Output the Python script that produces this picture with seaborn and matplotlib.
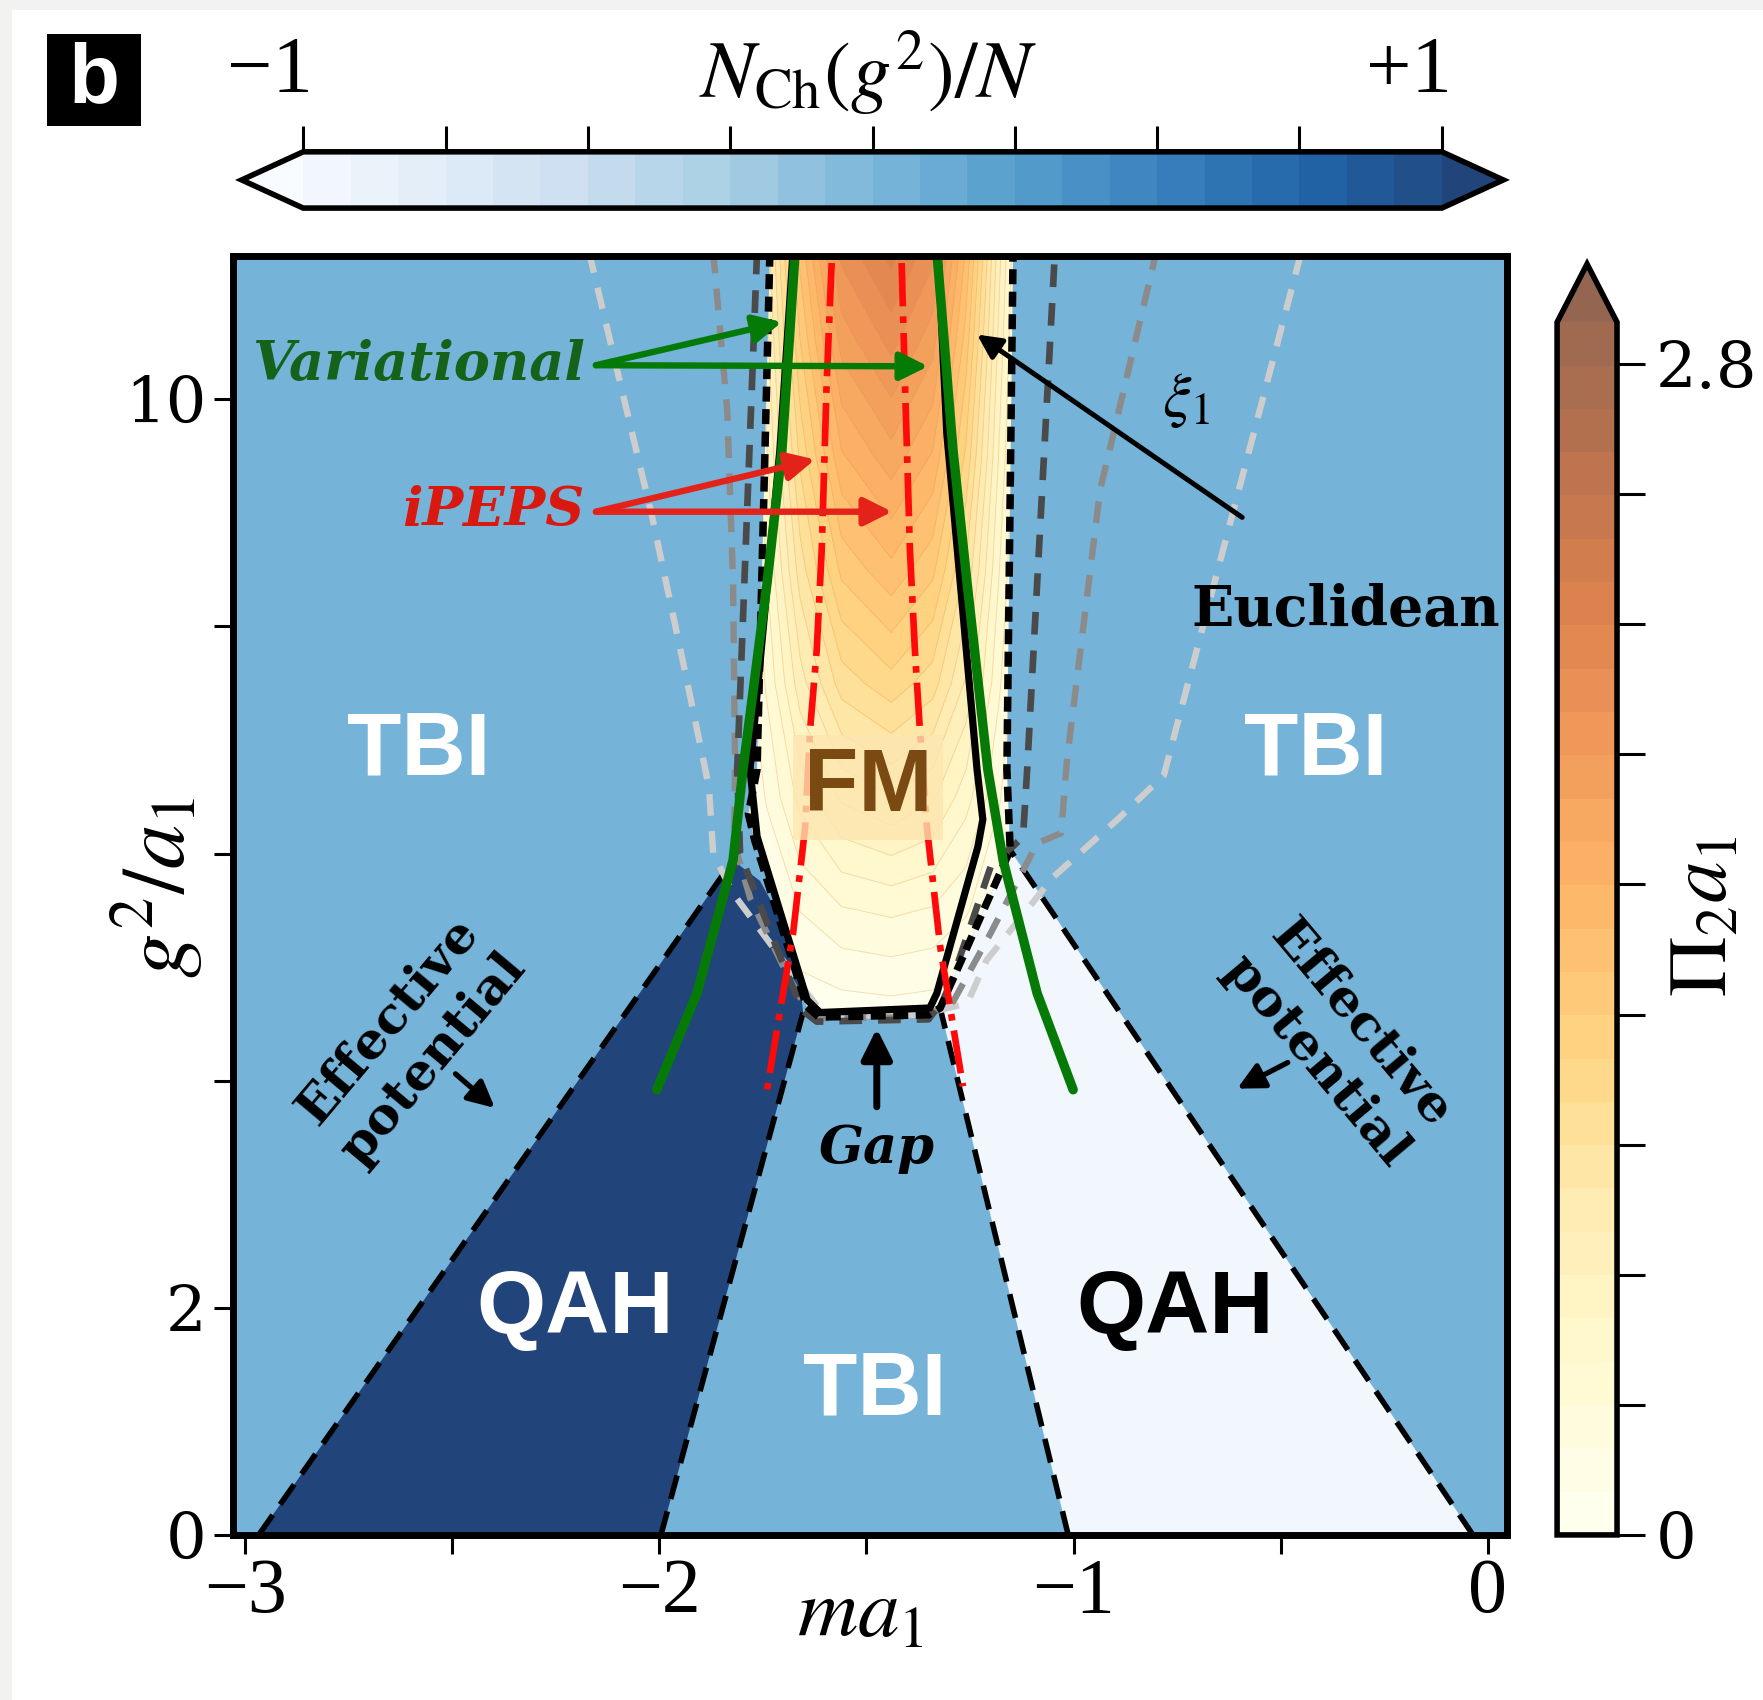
import numpy as np
import matplotlib
matplotlib.use("Agg")
import matplotlib.pyplot as plt
import seaborn as sns
from matplotlib.colors import ListedColormap, BoundaryNorm
from matplotlib.cm import ScalarMappable
from matplotlib.patches import Polygon, Rectangle

# ---------------------------------------------------------------- data
# colour scales
chern_levels = np.linspace(-1, 1, 25)        # N_Ch(g^2)/N
chern_ticks = np.linspace(-1, 1, 9)
pi_levels = np.linspace(0, 2.9, 29)          # Pi_2 a1
pi_ticks = np.linspace(0, 2.8, 10)
pi_tick_labels = ["0", "", "", "", "", "", "", "", "", "2.8"]

# phase regions (m a1, g^2/a1) and their Chern number per flavour
tbi_x = [-3.05, 0.06, 0.06, -3.05]
tbi_y = [0.0, 0.0, 11.4, 11.4]
tbi_value = 0.0

qah_plus_x = [-2.967, -1.996, -1.653, -1.660, -1.691, -1.757, -1.822]
qah_plus_y = [0.0, 0.0, 4.60, 4.88, 5.32, 5.76, 5.94]
qah_plus_value = 1.0

qah_minus_x = [-1.013, -0.036, -1.153, -1.322]
qah_minus_y = [0.0, 0.0, 6.03, 4.64]
qah_minus_value = -1.0

# ferromagnetic region (outer dashed edge) and Pi_2 a1 inside it
fm_edge_x = [-1.733, -1.764, -1.785, -1.770, -1.645, -1.615, -1.350, -1.322, -1.153, -1.161, -1.146]
fm_edge_y = [11.30, 6.74, 6.35, 6.12, 4.66, 4.56, 4.58, 4.64, 6.03, 6.74, 11.30]

fm_line_x = [-1.677, -1.709, -1.781, -1.764, -1.643, -1.612, -1.347, -1.330, -1.231, -1.219, -1.233, -1.306, -1.327]
fm_line_y = [11.30, 9.55, 6.74, 6.15, 4.71, 4.60, 4.64, 4.77, 6.06, 6.30, 6.74, 9.70, 11.30]

pi_x = [-1.82, -1.74, -1.66, -1.56, -1.44, -1.34, -1.26, -1.18, -1.12]
pi_y = [4.5, 5.5, 6.5, 7.5, 8.5, 9.5, 10.5, 11.3]
pi_table = [
    [0.00, 0.00, 0.01, 0.02, 0.03, 0.02, 0.01, 0.00, 0.00],
    [0.02, 0.10, 0.21, 0.30, 0.33, 0.30, 0.22, 0.10, 0.02],
    [0.03, 0.22, 0.45, 0.64, 0.72, 0.64, 0.46, 0.22, 0.05],
    [0.05, 0.33, 0.68, 0.98, 1.10, 0.98, 0.71, 0.33, 0.08],
    [0.06, 0.42, 0.88, 1.27, 1.42, 1.27, 0.92, 0.42, 0.10],
    [0.08, 0.51, 1.06, 1.54, 1.72, 1.54, 1.12, 0.51, 0.13],
    [0.10, 0.59, 1.24, 1.80, 2.00, 1.80, 1.30, 0.59, 0.15],
    [0.11, 0.66, 1.38, 2.00, 2.22, 2.00, 1.44, 0.66, 0.17],
]

# Euclidean correlation-length contours xi_1 (dark -> light)
xi_dark_x = [-1.764, -1.812, -1.805, -1.720, -1.655, -1.620, -1.350, -1.315, -1.291, -1.195, -1.150, -1.122, -1.112, -1.045]
xi_dark_y = [11.30, 6.74, 6.00, 5.20, 4.62, 4.52, 4.54, 4.71, 4.91, 5.94, 6.05, 6.15, 6.74, 11.30]
xi_mid_x = [-1.870, -1.836, -1.822, -1.817, -1.820, -1.780, -1.700, -1.655, -1.620, -1.360, -1.290, -1.200, -1.088, -1.030, -1.016, -0.936, -0.800]
xi_mid_y = [11.30, 9.90, 8.40, 6.74, 6.10, 5.60, 5.00, 4.70, 4.55, 4.56, 4.70, 5.30, 6.09, 6.18, 6.82, 9.20, 11.30]
xi_light_x = [-2.170, -2.017, -1.936, -1.880, -1.870, -1.822, -1.690, -1.643, -1.600, -1.370, -1.257, -1.210, -1.050, -0.888, -0.782, -0.450]
xi_light_y = [11.30, 8.96, 7.57, 6.58, 6.00, 5.65, 5.00, 4.77, 4.57, 4.58, 4.68, 5.06, 5.79, 6.32, 6.69, 11.30]

# variational and iPEPS transition lines
var_left_x = [-1.672, -1.704, -1.740, -1.798, -1.822, -1.909, -2.006]
var_left_y = [11.30, 9.55, 8.38, 6.74, 5.94, 4.77, 3.92]
var_right_x = [-1.330, -1.291, -1.257, -1.207, -1.170, -1.088, -1.001]
var_right_y = [11.30, 9.55, 8.38, 6.74, 5.94, 4.77, 3.92]
peps_left_x = [-1.584, -1.596, -1.608, -1.620, -1.636, -1.648, -1.677, -1.740]
peps_left_y = [11.20, 10.14, 8.67, 7.79, 7.09, 6.23, 5.30, 3.92]
peps_right_x = [-1.415, -1.407, -1.395, -1.383, -1.371, -1.354, -1.322, -1.267]
peps_right_y = [11.20, 10.14, 8.67, 7.79, 7.09, 6.23, 5.18, 3.95]

x_ticks = [-3, -2, -1, 0]
x_minor_ticks = [-2.5, -1.5, -0.5]
y_ticks = [0, 2, 4, 6, 8, 10]
y_tick_labels = ["0", "2", "", "", "", "10"]

# ---------------------------------------------------------------- style
sns.set_theme(style="ticks")
plt.rcParams["font.family"] = ["DejaVu Serif", "DejaVu Sans"]
plt.rcParams["mathtext.fontset"] = "stix"
plt.rcParams["axes.unicode_minus"] = True
plt.rcParams.update({"text.color": "black", "axes.labelcolor": "black",
                     "xtick.color": "black", "ytick.color": "black",
                     "axes.edgecolor": "black"})


def faded(name, alpha):
    rgba = plt.get_cmap(name)(np.linspace(0, 1, 256))
    rgba[:, :3] = alpha * rgba[:, :3] + (1 - alpha)
    return ListedColormap(rgba)


blues = faded("Blues", 0.9)
oranges = faded("YlOrBr", 0.7)
chern_norm = BoundaryNorm(chern_levels, blues.N, extend="both")
pi_norm = BoundaryNorm(pi_levels, oranges.N, extend="max")

fig = plt.figure(figsize=(17.63, 17.0), dpi=100)
fig.patch.set_facecolor("white")
fig.add_artist(Rectangle((0, 1 - 10 / 1700), 1, 10 / 1700, transform=fig.transFigure,
                         fc="#f2f2f0", ec="none", zorder=-5))
fig.add_artist(Rectangle((0, 0), 12 / 1763, 1, transform=fig.transFigure,
                         fc="#f2f2f0", ec="none", zorder=-5))

ax = fig.add_axes([0.1320, 0.0971, 0.7226, 0.7524])

# phase fills
for xs, ys, val in [(tbi_x, tbi_y, tbi_value),
                    (qah_plus_x, qah_plus_y, qah_plus_value),
                    (qah_minus_x, qah_minus_y, qah_minus_value)]:
    ax.fill(xs, ys, color=blues(chern_norm(val)), lw=0, zorder=0.5)

# FM region: Pi_2 a1 map clipped to the FM boundary
fm_patch = Polygon(np.column_stack([fm_edge_x, fm_edge_y]), closed=True,
                   fc="none", ec="none", transform=ax.transData)
ax.add_patch(fm_patch)
cs = ax.contourf(pi_x, pi_y, pi_table, levels=pi_levels, cmap=oranges,
                 norm=pi_norm, extend="max", zorder=1)
cs.set_clip_path(fm_patch)
cl = ax.contour(pi_x, pi_y, pi_table, levels=pi_levels[1:], colors="#e59650",
                linewidths=0.7, alpha=0.3, zorder=1.1)
cl.set_clip_path(fm_patch)


def curve(xs, ys, **kw):
    sns.lineplot(x=xs, y=ys, sort=False, estimator=None, ax=ax, **kw)


# QAH boundaries
qah_dash = (0, (4.4, 2.3))
qah_lw = 4.0
curve([qah_plus_x[0], qah_plus_x[-1]], [qah_plus_y[0], qah_plus_y[-1]],
      color="black", linewidth=qah_lw, linestyle=qah_dash, zorder=2)
curve(qah_plus_x[1:3], qah_plus_y[1:3], color="black", linewidth=qah_lw, linestyle=qah_dash, zorder=2)
curve(qah_minus_x[1:3], qah_minus_y[1:3], color="black", linewidth=qah_lw, linestyle=qah_dash, zorder=2)
curve([qah_minus_x[0], qah_minus_x[-1]], [qah_minus_y[0], qah_minus_y[-1]],
      color="black", linewidth=qah_lw, linestyle=qah_dash, zorder=2)

# xi_1 contours
grey_dash = (0, (3.4, 2.4))
curve(xi_light_x, xi_light_y, color="#cdcdcd", linewidth=4.6, linestyle=grey_dash, zorder=2.2)
curve(xi_mid_x, xi_mid_y, color="#8b8b8b", linewidth=4.6, linestyle=grey_dash, zorder=2.3)
curve(xi_dark_x, xi_dark_y, color="#4a4a4a", linewidth=4.8, linestyle=grey_dash, zorder=2.4)
curve(fm_edge_x, fm_edge_y, color="black", linewidth=5.4, linestyle=(0, (2.0, 1.0)), zorder=2.5)

# FM boundary (solid)
curve(fm_line_x, fm_line_y, color="black", linewidth=5.2, zorder=2.6)

# iPEPS and variational lines
peps_dash = (0, (6.5, 1.5, 1.0, 1.5))
curve(peps_left_x, peps_left_y, color="#ff0a0a", linewidth=4.8, linestyle=peps_dash, zorder=3)
curve(peps_right_x, peps_right_y, color="#ff0a0a", linewidth=4.8, linestyle=peps_dash, zorder=3)
curve(var_left_x, var_left_y, color="#067a06", linewidth=6.8, zorder=3.2)
curve(var_right_x, var_right_y, color="#067a06", linewidth=6.8, zorder=3.2)


def arrow(start, tip, color, lw, scale):
    ax.annotate("", xy=tip, xytext=start, zorder=6,
                arrowprops=dict(arrowstyle="-|>", color=color, lw=lw,
                                mutation_scale=scale, shrinkA=0, shrinkB=0))


serif_bi = dict(fontfamily="DejaVu Serif", fontweight="bold", fontstyle="italic")
serif_b = dict(fontfamily="DejaVu Serif", fontweight="bold")
sans_b = dict(fontfamily="Liberation Sans", fontweight="bold")

ax.text(-2.18, 10.30, "Variational", color="#17621a", fontsize=39, ha="right",
        va="center", zorder=6, **serif_bi)
arrow((-2.153, 10.30), (-1.704, 10.68), "#067a06", 4.6, 42)
arrow((-2.153, 10.30), (-1.351, 10.29), "#067a06", 4.6, 42)

ax.text(-2.18, 9.01, "iPEPS", color="#d91810", fontsize=39, ha="right",
        va="center", zorder=6, **serif_bi)
arrow((-2.153, 9.01), (-1.624, 9.47), "#e3231a", 4.6, 42)
arrow((-2.153, 9.01), (-1.438, 9.01), "#e3231a", 4.6, 42)

ax.text(-0.727, 10.0, r"$\xi_1$", fontsize=46, ha="center", va="center", zorder=6)
arrow((-0.593, 8.96), (-1.233, 10.57), "black", 3.6, 36)

ax.text(-0.342, 8.14, "Euclidean", fontsize=40, ha="center", va="center", zorder=6, **serif_b)

ax.text(-1.475, 3.40, "Gap", fontsize=38, ha="center", va="center", zorder=6, **serif_bi)
arrow((-1.475, 3.77), (-1.475, 4.46), "black", 5.0, 46)

ax.text(-2.60, 4.36, "Effective\npotential", fontsize=37, rotation=50, ha="center",
        va="center", multialignment="center", linespacing=1.25, zorder=6,
        rotation_mode="anchor", **serif_b)
arrow((-2.492, 4.06), (-2.397, 3.76), "black", 3.8, 40)
ax.text(-0.361, 4.33, "Effective\npotential", fontsize=37, rotation=-50, ha="center",
        va="center", multialignment="center", linespacing=1.25, zorder=6,
        rotation_mode="anchor", **serif_b)
arrow((-0.483, 4.16), (-0.605, 3.93), "black", 3.8, 40)

ax.text(-2.582, 6.90, "TBI", color="white", fontsize=64, ha="center", va="center", zorder=6, **sans_b)
ax.text(-0.415, 6.90, "TBI", color="white", fontsize=64, ha="center", va="center", zorder=6, **sans_b)
ax.text(-1.479, 1.26, "TBI", color="white", fontsize=64, ha="center", va="center", zorder=6, **sans_b)
ax.text(-2.202, 1.98, "QAH", color="white", fontsize=64, ha="center", va="center", zorder=6, **sans_b)
ax.text(-0.755, 1.98, "QAH", color="black", fontsize=64, ha="center", va="center", zorder=6, **sans_b)
ax.text(-1.496, 6.58, "FM", color="#7a4a12", fontsize=64, ha="center", va="center", zorder=5,
        bbox=dict(boxstyle="square,pad=0.12", fc="#fde6b0", ec="none", alpha=0.8), **sans_b)

# axes
ax.set_xlim(-3.0297, 0.0454)
ax.set_ylim(0, 11.263)
ax.set_xticks(x_ticks)
ax.set_xticks(x_minor_ticks, minor=True)
ax.set_yticks(y_ticks)
ax.set_yticklabels(y_tick_labels)
ax.tick_params(axis="both", which="both", direction="out", length=14, width=2.2,
               color="black", bottom=True, left=True)
ax.tick_params(axis="x", labelsize=56, pad=2)
ax.tick_params(axis="y", labelsize=46, pad=5)
for lbl in ax.get_xticklabels():
    lbl.set_fontfamily("Liberation Serif")
for lbl in ax.get_yticklabels():
    lbl.set_fontfamily("DejaVu Serif")
for sp in ax.spines.values():
    sp.set_visible(True)
    sp.set_linewidth(5.0)
    sp.set_color("black")
    sp.set_zorder(10)
ax.set_xlabel(r"$ma_1$", fontsize=60)
ax.xaxis.label.set_va("center")
ax.xaxis.set_label_coords(0.4925, -0.061)
ax.set_ylabel(r"$g^2/a_1$", fontsize=64)
ax.yaxis.label.set_va("center")
ax.yaxis.set_label_coords(-0.0594, 0.506)

# top colour bar: N_Ch/N (axes box includes the end triangles)
cax_top = fig.add_axes([0.1371, 0.8776, 0.7156, 0.0331])
cb_top = fig.colorbar(ScalarMappable(norm=chern_norm, cmap=blues), cax=cax_top,
                      orientation="horizontal", extend="both", extendfrac=0.054,
                      ticks=chern_ticks)
cax_top.minorticks_off()
cax_top.xaxis.set_ticks_position("top")
cax_top.tick_params(length=19, width=2.2, direction="out", labeltop=False, labelbottom=False)
cb_top.outline.set_linewidth(4.0)
for val, txt in [(chern_ticks[0], "\u22121"), (chern_ticks[-1], "+1")]:
    cax_top.annotate(txt, xy=(val, 1), xycoords=("data", "axes fraction"),
                     xytext=(-24, 57), textcoords="offset points", ha="center",
                     va="center", fontsize=58, fontfamily="Liberation Serif")
fig.text(0.4923, 0.957, r"$N_{\mathrm{Ch}}(g^2)/N$", fontsize=58, ha="center", va="center")

# right colour bar: Pi_2 a1 (axes box includes the end triangle)
cax_r = fig.add_axes([0.8832, 0.0971, 0.0340, 0.7476])
cb_r = fig.colorbar(ScalarMappable(norm=pi_norm, cmap=oranges), cax=cax_r,
                    extend="max", extendfrac=0.048, ticks=pi_ticks)
cax_r.minorticks_off()
cax_r.set_yticklabels(pi_tick_labels)
cax_r.tick_params(length=20, width=2.2, direction="out", labelsize=46, pad=8)
for lbl in cax_r.get_yticklabels():
    lbl.set_fontfamily("DejaVu Serif")
cb_r.outline.set_linewidth(4.0)
cax_r.text(2.43, 0.51, r"$\Pi_2 a_1$", transform=cax_r.transAxes, rotation=90,
           ha="center", va="center", fontsize=60)

# panel tag
fig.add_artist(Rectangle((0.0267, 0.9259), 0.0533, 0.0541, transform=fig.transFigure,
                         fc="black", ec="none"))
fig.text(0.0533, 0.953, "b", color="white", fontsize=60, ha="center", va="center", **sans_b)

fig.savefig("out.png", dpi=100)
